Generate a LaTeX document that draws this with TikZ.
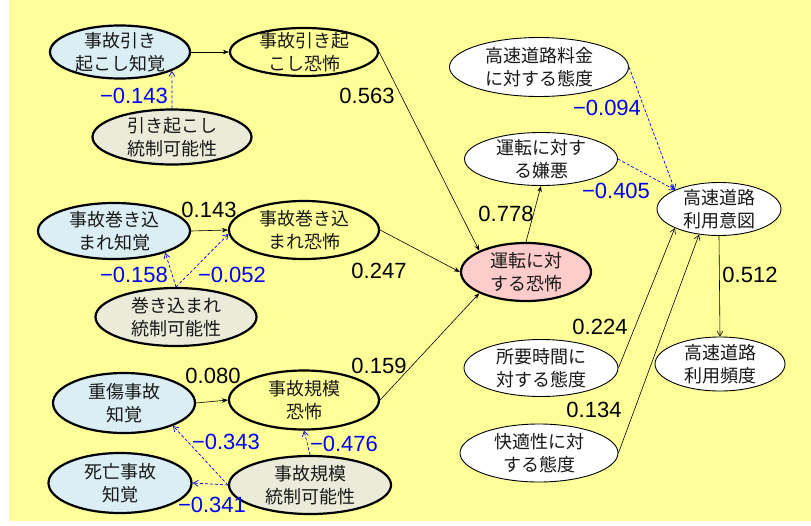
\documentclass[tikz,border=0pt]{standalone}
\usepackage{fontspec}
\setmainfont{Liberation Sans}
\newfontfamily\jp{Noto Sans CJK JP}
\usetikzlibrary{shapes.geometric,arrows.meta}
\definecolor{bgyellow}{HTML}{FFFF99}
\definecolor{blfill}{HTML}{DAEEF3}
\definecolor{grfill}{HTML}{EBEBDA}
\definecolor{pkfill}{HTML}{FFCCCC}
\definecolor{numblue}{HTML}{0000FF}
\tikzset{
  ell/.style={ellipse, inner sep=0pt, draw=black},
  thickell/.style={ell, line width=2.2pt},
  thinell/.style={ell, line width=0.9pt, fill=white},
  jtxt/.style={font=\jp\fontsize{18}{23}\selectfont, align=center, inner sep=0pt, text=black!90},
  num/.style={font=\fontsize{22}{24}\selectfont, inner sep=0pt, text=black},
  bnum/.style={num, text=numblue},
  solidarr/.style={draw=black, line width=0.6pt, -{Stealth[length=6pt,width=4.5pt]}},
  openarr/.style={draw=black, line width=0.6pt, -{Straight Barb[length=5pt,width=6pt]}},
  dasharr/.style={draw=numblue, line width=0.7pt, dash pattern=on 3pt off 2pt, -{Straight Barb[length=5pt,width=6pt]}},
}
\begin{document}
\begin{tikzpicture}[x=1pt,y=-1pt]
\useasboundingbox (0,0) rectangle (811,525);
\fill[white] (0,0) rectangle (811,525);
\fill[bgyellow] (9,0) rectangle (811,521);

% ellipses
\node[thickell, fill=blfill, minimum width=140pt, minimum height=53pt] (n1) at (120,52) {};
\node[thickell, fill=bgyellow, minimum width=148pt, minimum height=48pt] (n2) at (304,52) {};
\node[thickell, fill=grfill, minimum width=159pt, minimum height=55pt] (n3) at (172,137) {};
\node[thickell, fill=blfill, minimum width=152pt, minimum height=56pt] (n4) at (114,231) {};
\node[thickell, fill=bgyellow, minimum width=150pt, minimum height=58pt] (n5) at (304,230) {};
\node[thickell, fill=grfill, minimum width=161pt, minimum height=58pt] (n6) at (176,317) {};
\node[thickell, fill=blfill, minimum width=142pt, minimum height=60pt] (n7) at (124,403) {};
\node[thickell, fill=bgyellow, minimum width=150pt, minimum height=59pt] (n8) at (304,400) {};
\node[thickell, fill=blfill, minimum width=143pt, minimum height=60pt] (n9) at (120,483) {};
\node[thickell, fill=grfill, minimum width=162pt, minimum height=58pt] (n10) at (310,485) {};
\node[thickell, fill=pkfill, minimum width=130pt, minimum height=58pt] (n11) at (526,272) {};
\node[thinell, minimum width=179pt, minimum height=59pt] (n12) at (539,67) {};
\node[thinell, minimum width=153pt, minimum height=53pt] (n13) at (541,159) {};
\node[thinell, minimum width=124pt, minimum height=53pt] (n14) at (719,209) {};
\node[thinell, minimum width=154pt, minimum height=57pt] (n15) at (541,368) {};
\node[thinell, minimum width=158pt, minimum height=58pt] (n16) at (539,453) {};
\node[thinell, minimum width=130pt, minimum height=54pt] (n17) at (720,364) {};

% texts
\node[jtxt] (t1) at (n1) {事故引き\\起こし知覚};
\node[jtxt] (t2) at (n2) {事故引き起\\こし恐怖};
\node[jtxt] (t3) at (n3) {引き起こし\\統制可能性};
\node[jtxt] (t4) at (n4) {事故巻き込\\まれ知覚};
\node[jtxt] (t5) at (n5) {事故巻き込\\まれ恐怖};
\node[jtxt] (t6) at (n6) {巻き込まれ\\統制可能性};
\node[jtxt] (t7) at (n7) {重傷事故\\知覚};
\node[jtxt] (t8) at (n8) {事故規模\\恐怖};
\node[jtxt] (t9) at (n9) {死亡事故\\知覚};
\node[jtxt] (t10) at (n10) {事故規模\\統制可能性};
\node[jtxt] (t11) at (n11) {運転に対\\する恐怖};
\node[jtxt] (t12) at (n12) {高速道路料金\\に対する態度};
\node[jtxt] (t13) at (n13) {運転に対す\\る嫌悪};
\node[jtxt] (t14) at (n14) {高速道路\\利用意図};
\node[jtxt] (t15) at (n15) {所要時間に\\対する態度};
\node[jtxt] (t16) at (n16) {快適性に対\\する態度};
\node[jtxt] (t17) at (n17) {高速道路\\利用頻度};

% connectors
\draw[solidarr] (n1.east) -- (n2.west);
\draw[dasharr] (n3.north) -- (n1.-20);
\draw[solidarr] (n2.east) -- (n11.north west);
\draw[solidarr] (n4.east) -- (n5.west);
\draw[dasharr] (n6.north) -- (n4.-23);
\draw[dasharr] (n6.north) -- (n5.183);
\draw[solidarr] (n5.east) -- (n11.west);
\draw[solidarr] (n7.east) -- (n8.west);
\draw[solidarr] (n8.east) -- (n11.south west);
\draw[dasharr] (n10.north) -- (n8.south);
\draw[dasharr] (n10.west) -- (n7.-25);
\draw[dasharr] (n10.west) -- (n9.east);
\draw[solidarr] (n11.north) -- (n13.south);
\draw[dasharr] (n12.east) -- (n14.north west);
\draw[dasharr] (n13.east) -- (n14.north west);
\draw[openarr] (n15.east) -- (n14.south west);
\draw[openarr] (n16.east) -- (n14.-128);
\draw[openarr] (n14.south) -- (n17.north);

% labels
\node[bnum] (l1) at (134,96) {−0.143};
\node[num] (l2) at (367,96) {0.563};
\node[num] (l3) at (209,210) {0.143};
\node[bnum] (l4) at (134,275) {−0.158};
\node[bnum] (l5) at (232,275) {−0.052};
\node[num] (l6) at (379,271) {0.247};
\node[num] (l7) at (213,376) {0.080};
\node[num] (l8) at (379,366) {0.159};
\node[bnum] (l9) at (226,442) {−0.343};
\node[bnum] (l10) at (344,444) {−0.476};
\node[bnum] (l11) at (212,505) {−0.341};
\node[bnum] (l12) at (607,108) {−0.094};
\node[num] (l13) at (506,214) {0.778};
\node[bnum] (l14) at (616,191) {−0.405};
\node[num] (l15) at (600,327) {0.224};
\node[num] (l16) at (594,410) {0.134};
\node[num] (l17) at (750,275) {0.512};
\end{tikzpicture}
\end{document}
